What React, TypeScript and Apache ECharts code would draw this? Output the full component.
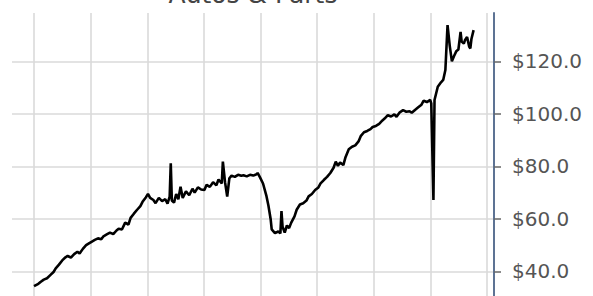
import React, { useEffect, useRef } from "react";
import * as echarts from "echarts";

// x values: weeks since 2013-01-01
const weeks = [
  0, 4, 6, 9, 12, 15, 18, 20, 23, 26, 29, 31, 34, 37, 40, 42, 45, 48, 51, 53,
  56, 59, 62, 64, 67, 70, 73, 76, 78, 81, 84, 87, 89, 92, 95, 98, 100, 103, 105, 107,
  110, 112, 115, 118, 121, 123, 125, 126, 127, 129, 131, 133, 135, 137, 140, 143, 146, 148, 151, 154,
  157, 159, 162, 165, 168, 170, 173, 174, 176, 178, 180, 182, 185, 188, 191, 193, 196, 199, 202, 205,
  206, 208, 211, 214, 216, 218, 219, 222, 225, 227, 228, 229, 231, 233, 235, 237, 240, 242, 245, 248,
  251, 253, 256, 259, 262, 264, 267, 270, 273, 276, 278, 280, 282, 285, 287, 290, 293, 296, 299, 301,
  304, 307, 310, 312, 315, 318, 321, 323, 326, 329, 332, 334, 337, 340, 343, 346, 348, 351, 354, 357,
  359, 362, 365, 366, 368, 369, 372, 375, 377, 379, 381, 383, 385, 387, 389, 391, 393, 394, 396, 397,
  399, 401, 402, 403, 405,
];

const prices = [
  34.4, 35.3, 36.0, 36.9, 37.4, 38.6, 39.8, 41.2, 42.6, 44.2, 45.4, 45.9, 45.3, 46.6, 47.5, 46.8, 48.6, 50.0, 50.8, 51.3,
  52.0, 52.6, 52.3, 53.4, 54.1, 54.8, 54.2, 55.6, 56.3, 56.0, 58.6, 57.8, 60.4, 62.0, 63.5, 64.9, 66.5, 68.2, 69.5, 68.0,
  67.2, 66.0, 68.0, 66.8, 67.5, 65.8, 68.5, 81.2, 67.0, 66.2, 69.5, 67.5, 72.3, 68.0, 70.5, 69.0, 71.5, 70.0, 72.0, 71.2,
  71.0, 73.0, 72.2, 74.0, 72.8, 75.0, 73.5, 81.8, 74.0, 68.5, 75.5, 76.5, 76.0, 76.8, 76.4, 76.6, 76.2, 76.8, 76.5, 77.0,
  77.5, 76.0, 73.5, 69.0, 65.0, 60.0, 56.0, 54.6, 55.2, 54.5, 63.0, 57.0, 54.8, 57.5, 56.5, 58.6, 61.0, 63.5, 65.5, 66.0,
  67.0, 68.6, 69.5, 71.0, 72.0, 73.5, 74.8, 76.0, 77.5, 79.5, 81.8, 80.2, 81.5, 80.5, 83.5, 86.5, 87.5, 88.0, 89.5, 91.5,
  93.0, 93.5, 94.2, 95.0, 95.4, 96.2, 97.5, 98.2, 99.5, 99.0, 99.8, 98.9, 100.6, 101.4, 100.8, 101.0, 100.4, 101.5, 102.5, 103.5,
  105.0, 104.5, 105.3, 104.0, 67.2, 105.3, 110.3, 112.0, 112.9, 116.7, 133.8, 126.0, 120.0, 122.0, 123.8, 124.5, 131.2, 127.5, 126.8, 128.0,
  129.3, 125.5, 124.9, 128.5, 131.9,
];

// year starts (2013 ... 2021) in weeks since 2013-01-01
const yearStartWeeks = [0, 52.18, 104.36, 156.54, 208.71, 260.89, 313.07, 365.25, 417.43];
const priceTicks = [40, 60, 80, 100, 120];
const chartTitle = "Autos & Parts";

export default function App() {
  const ref = useRef<HTMLDivElement>(null);
  useEffect(() => {
    const chart = echarts.init(ref.current!, null, { renderer: "svg" });
    chart.setOption({
      animation: false,
      grid: { left: 12, right: 99, top: 13, bottom: 6 },
      graphic: [
        {
          type: "text",
          x: 253,
          y: -5.3,
          style: {
            text: chartTitle,
            fill: "#444",
            font: '25px "DejaVu Sans"',
            align: "center",
            verticalAlign: "middle",
          },
        },
      ],
      xAxis: {
        type: "value",
        min: -20.27,
        max: 423.8,
        axisLine: { show: false, onZero: false },
        axisTick: { show: false, customValues: yearStartWeeks },
        axisLabel: { show: false, customValues: yearStartWeeks },
        splitLine: { show: true, lineStyle: { color: "#dadada", width: 1.6 } },
      },
      yAxis: {
        type: "value",
        position: "right",
        min: 20,
        max: 138.4,
        axisLine: { show: true, onZero: false, lineStyle: { color: "#5d7394", width: 2 } },
        axisTick: { show: true, length: 7, lineStyle: { color: "#666", width: 1.5 }, customValues: priceTicks },
        axisLabel: {
          customValues: priceTicks,
          margin: 18,
          color: "#555",
          fontSize: 20,
          fontFamily: "DejaVu Sans",
          padding: [3, 0, 0, 0],
          formatter: (v: number) => "$" + v.toFixed(1),
        },
        splitLine: { show: true, lineStyle: { color: "#dadada", width: 1.6 } },
      },
      series: [
        {
          type: "line",
          data: weeks.map((w, i) => [w, prices[i]]),
          showSymbol: false,
          symbol: "none",
          lineStyle: { color: "#000", width: 2.6 },
          itemStyle: { color: "#000" },
        },
      ],
    });
    return () => chart.dispose();
  }, []);
  return (
    <div style={{ position: "fixed", left: 0, top: 0, width: 593, height: 296, overflow: "hidden", background: "#fff" }}>
      <div ref={ref} style={{ width: 593, height: 330 }} />
    </div>
  );
}
